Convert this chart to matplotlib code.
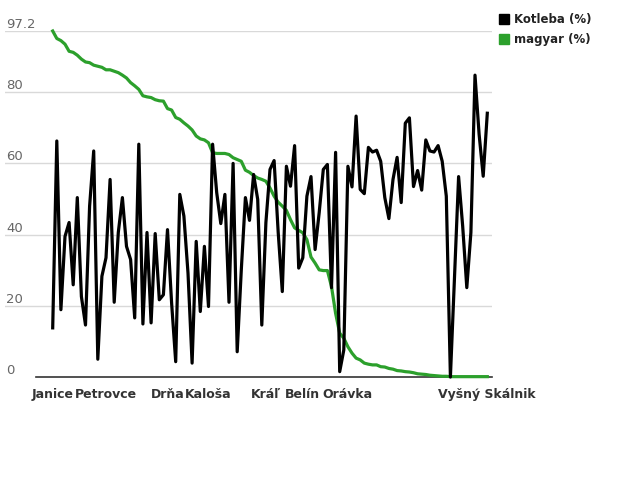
import matplotlib
matplotlib.use("Agg")
import matplotlib.pyplot as plt

kotleba = [13.8,66.3,18.9,39.5,43.4,25.9,50.4,22.6,14.6,48,63.5,5,28.3,33.5,55.5,21,40.6,50.4,36.7,33,
16.6,65.4,14.9,40.6,15.2,40.3,21.7,23.1,41.4,20.8,4.3,51.3,45.2,29.2,3.9,38.1,18.4,36.7,19.8,65.4,
51.8,43.1,51.3,21,60,7.1,30.1,50.4,44,56.9,49.9,14.6,43.4,58.3,60.8,40.6,24,59.2,
53.6,65,30.6,33.5,50.8,56.3,35.8,46.2,58.3,59.7,25.1,63.1,1.5,7.6,59.2,53.4,73.3,52.7,51.5,64.5,63.2,63.7,
60.6,50.4,44.5,55.5,61.7,49,71.3,72.8,53.5,58,52.5,66.6,63.5,63.2,65,60.6,50.8,0,28,56.3,42.3,25.1,40.6,84.8,68.2,56.4,74.1]
magyar = [97.2,95.1,94.5,93.5,91.5,91.2,90.4,89.3,88.5,88.3,87.6,87.3,87,86.3,86.3,85.9,85.5,84.8,84,82.7,
81.8,80.8,79,78.7,78.5,77.9,77.6,77.5,75.4,75,72.9,72.4,71.4,70.5,69.4,67.7,66.9,66.6,65.8,63,
62.8,62.8,62.8,62.5,61.6,61.1,60.6,58.1,57.5,56.6,55.9,55.5,55,53.1,50.8,49.1,48,46.8,
44.2,41.9,41.2,40.5,38.6,33.7,32,30.1,29.9,29.9,25.4,17.9,12.3,10.9,8.5,6.7,5.3,4.8,3.9,3.6,3.4,3.4,
2.9,2.8,2.4,2.2,1.8,1.7,1.5,1.4,1.2,0.9,0.8,0.7,0.5,0.4,0.3,0.2,0.2,0.1,0.1,0.1,0.1,0.1,0.1,0.1,0.1,0.1,0.1]
label_idx = [0,13,28,38,52,61,72,106]
label_txt = ["Janice","Petrovce","Drňa","Kaloša","Kráľ","Belín","Orávka","Vyšný Skálnik"]
yticks = [0,20,40,60,80,97.2]

W,H = 620,500
fig = plt.figure(figsize=(W/100,H/100),dpi=100)
ax = fig.add_axes([5/W,123/H,(492-5)/W,346/H])
step = 4.1
x0 = -(52.7-5)/step
x1 = x0 + (492-5)/step
ax.set_xlim(x0,x1)
ax.set_ylim(0,97.2)
for t in yticks[1:]:
    ax.axhline(t,color="#d9d9d9",lw=1,zorder=1)
    ax.text(2/W*0+0.003,t,"{:g}".format(t),transform=ax.get_yaxis_transform(),
            va="bottom",ha="left",fontsize=9.5,color="#666666")
ax.text(0.003,0,"0",transform=ax.get_yaxis_transform(),va="bottom",ha="left",
        fontsize=9.5,color="#666666")
ax.text(0.003,2.5,"",transform=ax.get_yaxis_transform())
ax.plot([-4,x1],[0,0],color="#333333",lw=1.2,zorder=2,clip_on=False)
xs = list(range(len(kotleba)))
ax.plot(xs,magyar,color="#2ca02c",lw=2.3,zorder=3,clip_on=False)
ax.plot(xs,kotleba,color="black",lw=2.3,zorder=4,clip_on=False)
ax.set_xticks(label_idx)
ax.set_xticklabels(label_txt,fontweight="bold",fontsize=9,color="#333333")
ax.tick_params(axis="x",length=0,pad=8)
ax.set_yticks([])
for s in ax.spines.values():
    s.set_visible(False)
fig.patches.append(plt.Rectangle((499/W,(H-24)/H),10/W,10/H,color="black",transform=fig.transFigure))
fig.text(514/W,(H-19)/H,"Kotleba (%)",fontsize=8.5,fontweight="bold",va="center",color="#222222")
fig.patches.append(plt.Rectangle((499/W,(H-44)/H),10/W,10/H,color="#2ca02c",transform=fig.transFigure))
fig.text(514/W,(H-39)/H,"magyar (%)",fontsize=8.5,fontweight="bold",va="center",color="#222222")
fig.savefig("out.png",dpi=100)
